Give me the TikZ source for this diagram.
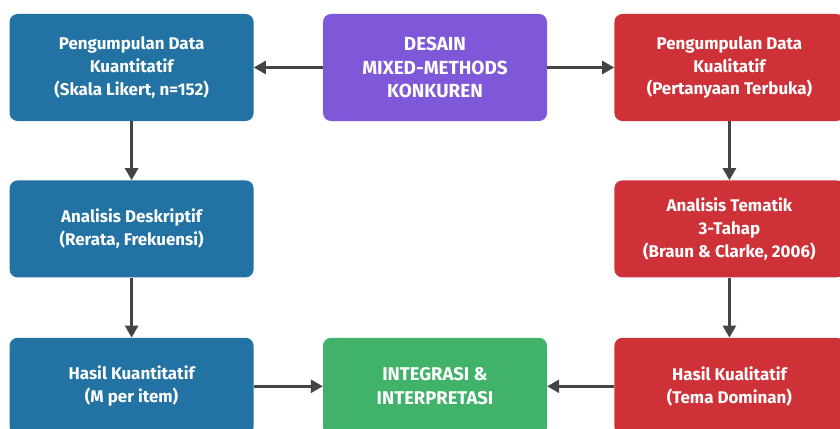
\documentclass[tikz,border=0pt]{standalone}
\definecolor{quantblue}{RGB}{34,114,163}
\definecolor{designpurple}{RGB}{127,88,217}
\definecolor{qualred}{RGB}{206,50,56}
\definecolor{integgreen}{RGB}{64,178,106}
\definecolor{arrowgray}{RGB}{68,68,68}
\usepackage{fontspec}
\setsansfont{Fira Sans}
\usepackage{tikz}
\usetikzlibrary{arrows.meta,positioning}

\begin{document}
\begin{tikzpicture}[x=1bp, y=1bp,
    box/.style={rounded corners=8bp, text=white, align=center, inner sep=0pt,
                font=\sffamily\bfseries\fontsize{17}{23}\selectfont},
    capsbox/.style={box, minimum width=224bp,
                font=\sffamily\bfseries\fontsize{19}{24}\selectfont},
    quant/.style={box, fill=quantblue, minimum width=244bp},
    qual/.style={box, fill=qualred, minimum width=230bp},
    flowarrow/.style={draw=arrowgray, line width=2.6bp,
                      -{Triangle[length=12bp,width=13bp]}}]
  \useasboundingbox (0,0) rectangle (840,428);

  % top row
  \node[capsbox, fill=designpurple, minimum height=107bp]
    (desain) at (435,360.5) {DESAIN\\MIXED-METHODS\\KONKUREN};
  \node[quant, minimum height=107bp, left=69bp of desain] (pkuan)
    {Pengumpulan Data\\Kuantitatif\\(Skala Likert, n=152)};
  \node[qual, minimum height=107bp, right=67bp of desain] (pkual)
    {Pengumpulan Data\\Kualitatif\\(Pertanyaan Terbuka)};

  % middle row
  \node[quant, minimum height=97bp, below=59bp of pkuan] (deskriptif)
    {Analisis Deskriptif\\(Rerata, Frekuensi)};
  \node[qual, minimum height=97bp, below=59bp of pkual] (tematik)
    {Analisis Tematik\\3-Tahap\\(Braun \& Clarke, 2006)};

  % bottom row
  \node[quant, minimum height=97bp, below=60bp of deskriptif] (hkuan)
    {Hasil Kuantitatif\\(M per item)};
  \node[qual, minimum height=97bp, below=60bp of tematik] (hkual)
    {Hasil Kualitatif\\(Tema Dominan)};
  \node[capsbox, fill=integgreen, font=\sffamily\bfseries\fontsize{18.5}{24}\selectfont,
        minimum height=97bp]
    (integrasi) at (desain |- hkuan) {INTEGRASI \&\\INTERPRETASI};

  % arrows
  \draw[flowarrow] (desain) -- (pkuan);
  \draw[flowarrow] (desain) -- (pkual);
  \draw[flowarrow] (pkuan) -- (deskriptif);
  \draw[flowarrow] (deskriptif) -- (hkuan);
  \draw[flowarrow] (pkual) -- (tematik);
  \draw[flowarrow] (tematik) -- (hkual);
  \draw[flowarrow] (hkuan) -- (integrasi);
  \draw[flowarrow] (hkual) -- (integrasi);
\end{tikzpicture}
\end{document}
